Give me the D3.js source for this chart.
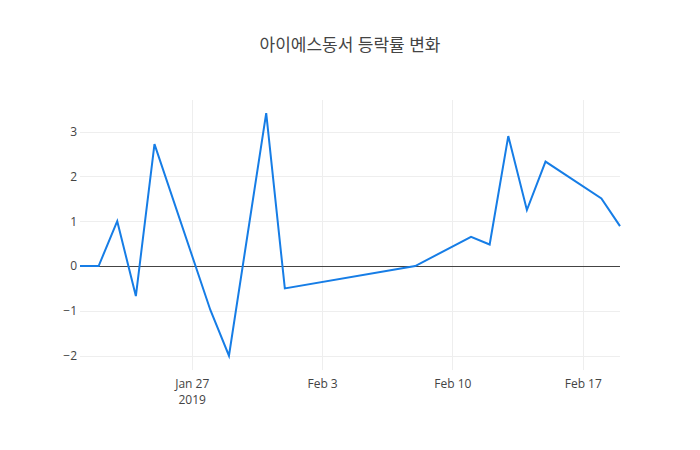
<!DOCTYPE html>
<html>
<head>
<meta charset="utf-8">
<script src="https://cdn.jsdelivr.net/npm/d3@7"></script>
<style>
  body { margin: 0; background: #fff; }
  svg { font-family: "Open Sans", "Noto Sans CJK KR", sans-serif; }
</style>
</head>
<body>
<svg id="chart"></svg>
<script>
// Data
const dates = [
  "2019-01-21", "2019-01-22", "2019-01-23", "2019-01-24", "2019-01-25",
  "2019-01-28", "2019-01-29", "2019-01-31", "2019-02-01", "2019-02-08",
  "2019-02-11", "2019-02-12", "2019-02-13", "2019-02-14", "2019-02-15",
  "2019-02-18", "2019-02-19"
];
const changes = [
  0, 0, 1.0, -0.67, 2.72,
  -0.98, -2.0, 3.41, -0.5, 0,
  0.65, 0.48, 2.9, 1.25, 2.33,
  1.51, 0.89
];
const xTicks = ["2019-01-27", "2019-02-03", "2019-02-10", "2019-02-17"];
const yTicks = [-2, -1, 0, 1, 2, 3];
const title = "아이에스동서 등락률 변화";

// Set up chart dimensions
const W = 700, H = 450;
const margin = { top: 100, right: 80, bottom: 80, left: 80 };
const width = W - margin.left - margin.right;
const height = H - margin.top - margin.bottom;

const parse = d3.timeParse("%Y-%m-%d");
const data = dates.map((d, i) => ({ date: parse(d), value: changes[i] }));

// snap 1px lines to the pixel grid
const crisp = (v) => Math.round(v) + 0.5;

const svg = d3.select("#chart").attr("width", W).attr("height", H);

// Title
svg.append("text")
  .attr("x", W / 2)
  .attr("y", 51)
  .attr("text-anchor", "middle")
  .style("font-size", "17px")
  .style("fill", "#444")
  .text(title);

const g = svg.append("g")
  .attr("transform", "translate(" + margin.left + "," + margin.top + ")");

// Scales
const xScale = d3.scaleTime()
  .domain(d3.extent(data, (d) => d.date))
  .range([0, width]);

const yScale = d3.scaleLinear()
  .domain([-2.32, 3.705])
  .range([height, 0]);

// Grid lines
g.append("g")
  .selectAll("line")
  .data(xTicks.map(parse))
  .enter()
  .append("line")
  .attr("x1", (d) => crisp(xScale(d)))
  .attr("x2", (d) => crisp(xScale(d)))
  .attr("y1", 0)
  .attr("y2", height)
  .style("stroke", "#eee")
  .style("stroke-width", 1);

g.append("g")
  .selectAll("line")
  .data(yTicks.filter((d) => d !== 0))
  .enter()
  .append("line")
  .attr("x1", 0)
  .attr("x2", width)
  .attr("y1", (d) => crisp(yScale(d)))
  .attr("y2", (d) => crisp(yScale(d)))
  .style("stroke", "#eee")
  .style("stroke-width", 1);

// Zero line
g.append("line")
  .attr("x1", 0)
  .attr("x2", width)
  .attr("y1", crisp(yScale(0)))
  .attr("y2", crisp(yScale(0)))
  .style("stroke", "#444")
  .style("stroke-width", 1);

// Line
const line = d3.line()
  .x((d) => xScale(d.date))
  .y((d) => yScale(d.value));

g.append("path")
  .datum(data)
  .attr("d", line)
  .style("fill", "none")
  .style("stroke", "#167de6")
  .style("stroke-width", 2)
  .style("stroke-linejoin", "miter");

// Y axis labels
const yAxis = g.append("g")
  .call(d3.axisLeft(yScale).tickValues(yTicks).tickSize(0).tickPadding(3)
    .tickFormat((d) => d3.format("")(d).replace("-", "\u2212")));
yAxis.select(".domain").remove();
yAxis.selectAll("text")
  .style("font-size", "12px")
  .style("fill", "#444")
  .style("font-family", "'Open Sans', sans-serif");

// X axis labels
const fmt = d3.timeFormat("%b %-d");
const xAxis = g.append("g")
  .attr("transform", "translate(0," + height + ")")
  .call(d3.axisBottom(xScale).tickValues(xTicks.map(parse)).tickSize(0).tickPadding(9)
    .tickFormat(fmt));
xAxis.select(".domain").remove();
xAxis.selectAll("text")
  .style("font-size", "12px")
  .style("fill", "#444")
  .style("font-family", "'Open Sans', sans-serif");

// Year under first tick
xAxis.select(".tick text")
  .each(function () {
    d3.select(this).append("tspan")
      .attr("x", 0)
      .attr("dy", "1.35em")
      .text("2019");
  });
</script>
</body>
</html>
